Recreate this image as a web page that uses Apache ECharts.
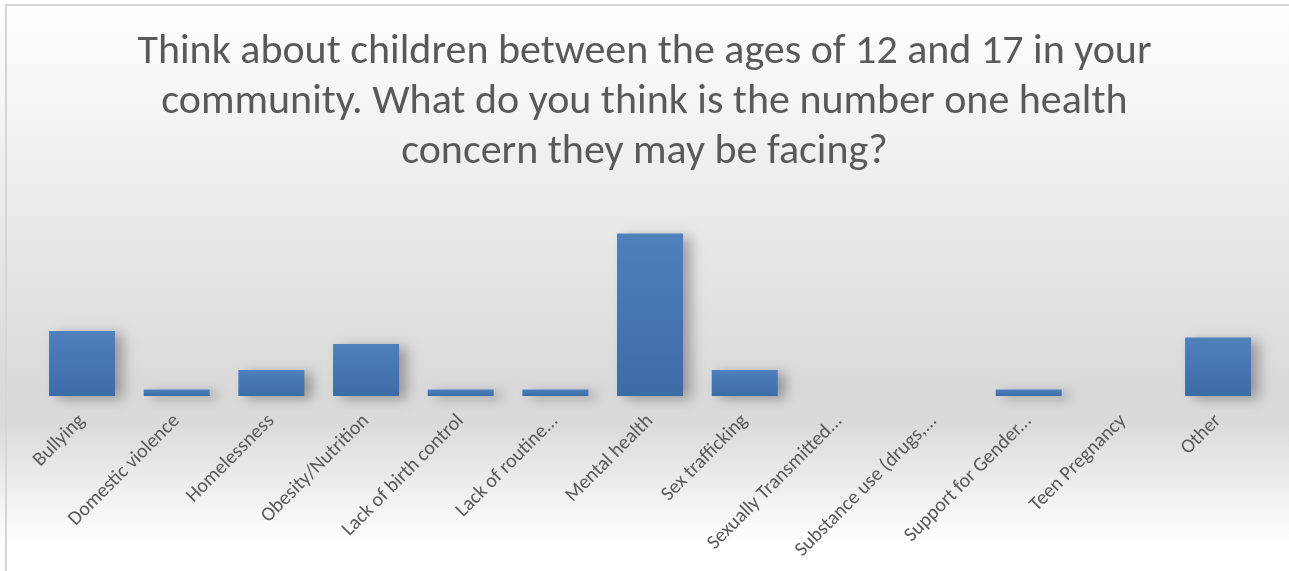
<!DOCTYPE html>
<html>
<head>
<meta charset="utf-8">
<script src="https://cdn.jsdelivr.net/npm/echarts@6/dist/echarts.min.js"></script>
<style>
html,body{margin:0;padding:0;background:#fff;}
#chart{width:1289px;height:571px;}
</style>
</head>
<body>
<div id="chart"></div>
<script>
const titleText = "Think about children between the ages of 12 and 17 in your\ncommunity. What do you think is the number one health\nconcern they may be facing?";
const categories = ["Bullying","Domestic violence","Homelessness","Obesity/Nutrition","Lack of birth control","Lack of routine...","Mental health","Sex trafficking","Sexually Transmitted...","Substance use (drugs,...","Support for Gender...","Teen Pregnancy","Other"];
const values = [10,1,4,8,1,1,25,4,0,0,1,0,9];
const yMax = 30;

const FONT = "Carlito, 'Liberation Sans Narrow', 'Liberation Sans', sans-serif";
const chart = echarts.init(document.getElementById('chart'), null, {renderer:'canvas'});
chart.setOption({
  backgroundColor: {
    type:'linear', x:0, y:0, x2:0, y2:1,
    colorStops:[
      {offset:0, color:'#ffffff'},
      {offset:0.3, color:'#eeeeee'},
      {offset:0.68, color:'#d9d9d9'},
      {offset:0.74, color:'#dadada'},
      {offset:0.95, color:'#ffffff'},
      {offset:1, color:'#ffffff'}
    ]
  },
  animation:false,
  graphic:[{
    type:'rect', shape:{x:6, y:5, width:1300, height:600},
    style:{fill:'none', stroke:'#d6d6d6', lineWidth:2}, silent:true
  }],
  title:{
    text:titleText, left:'center', top:22,
    textStyle:{fontFamily:FONT, fontSize:42, fontWeight:'normal', color:'#595959', lineHeight:50}
  },
  grid:{left:34.7, right:23.6, top:201, bottom:175, containLabel:false},
  xAxis:{
    type:'category', data:categories,
    axisLine:{show:false}, axisTick:{show:false},
    axisLabel:{rotate:45, interval:0, margin:22, fontFamily:FONT, fontSize:20, color:'#595959'}
  },
  yAxis:{
    type:'value', min:0, max:yMax, show:false, splitLine:{show:false}
  },
  series:[{
    type:'bar', data:values, barWidth:66,
    itemStyle:{
      color:{type:'linear', x:0,y:0,x2:0,y2:1, colorStops:[{offset:0,color:'#4f81bd'},{offset:1,color:'#3d6ba6'}]},
      shadowColor:'rgba(0,0,0,0.3)', shadowBlur:12, shadowOffsetX:8, shadowOffsetY:3
    }
  }]
});
</script>
</body>
</html>
